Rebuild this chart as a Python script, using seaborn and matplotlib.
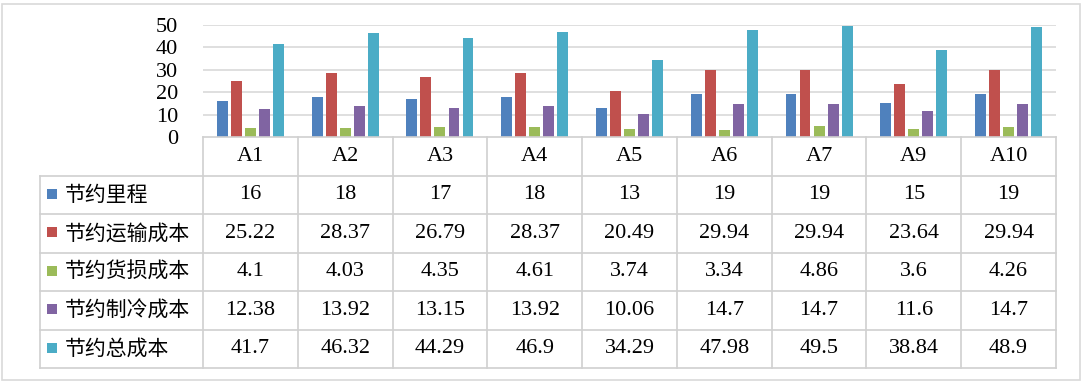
import matplotlib
matplotlib.use("Agg")
import matplotlib.pyplot as plt
import seaborn as sns
import pandas as pd
import numpy as np
from matplotlib.patches import Rectangle

categories = ["A1", "A2", "A3", "A4", "A5", "A6", "A7", "A9", "A10"]
series_names = ["节约里程", "节约运输成本", "节约货损成本", "节约制冷成本", "节约总成本"]
mileage = [16, 18, 17, 18, 13, 19, 19, 15, 19]
transport = [25.22, 28.37, 26.79, 28.37, 20.49, 29.94, 29.94, 23.64, 29.94]
damage = [4.1, 4.03, 4.35, 4.61, 3.74, 3.34, 4.86, 3.6, 4.26]
cooling = [12.38, 13.92, 13.15, 13.92, 10.06, 14.7, 14.7, 11.6, 14.7]
total = [41.7, 46.32, 44.29, 46.9, 34.29, 47.98, 49.5, 38.84, 48.9]
value_labels = [
    ["16", "18", "17", "18", "13", "19", "19", "15", "19"],
    ["25.22", "28.37", "26.79", "28.37", "20.49", "29.94", "29.94", "23.64", "29.94"],
    ["4.1", "4.03", "4.35", "4.61", "3.74", "3.34", "4.86", "3.6", "4.26"],
    ["12.38", "13.92", "13.15", "13.92", "10.06", "14.7", "14.7", "11.6", "14.7"],
    ["41.7", "46.32", "44.29", "46.9", "34.29", "47.98", "49.5", "38.84", "48.9"],
]
yticks = [0, 10, 20, 30, 40, 50]
colors = ["#4F81BD", "#C0504D", "#9BBB59", "#8064A2", "#4BACC6"]

all_series = [mileage, transport, damage, cooling, total]
df = pd.DataFrame({
    "cat": np.tile(categories, len(series_names)),
    "series": np.repeat(series_names, len(categories)),
    "value": np.concatenate(all_series),
})

W, H = 1086, 384
fig = plt.figure(figsize=(W / 100, H / 100), dpi=100)
serif = ["Liberation Serif", "DejaVu Serif"]
cjk = ["Noto Sans CJK SC", "DejaVu Sans"]
grid_c = "#D9D9D9"

def px(x0, y0, x1, y1):
    return [x0 / W, 1 - y1 / H, (x1 - x0) / W, (y1 - y0) / H]

# outer frame
fig.patches.append(Rectangle((2 / W, 4 / H), (1080 - 2) / W, (380 - 4) / H,
                             transform=fig.transFigure, fill=False,
                             edgecolor=grid_c, lw=1.2))

x_left_px, x_right_px, y_top_px, y_zero_px, y_bot_px = 203, 1056, 25, 137, 368
ax = fig.add_axes(px(x_left_px, y_top_px, x_right_px, y_zero_px))
sns.barplot(data=df, x="cat", y="value", hue="series", palette=colors,
            width=0.74, gap=0.22, ax=ax, legend=False, saturation=1,
            edgecolor="none")
ax.set_xlim(-0.5, len(categories) - 0.5)
ax.set_ylim(0, 50)
ax.set_yticks(yticks)
ax.set_yticklabels([str(t) for t in yticks], fontfamily=serif, fontsize=16)
ax.tick_params(axis="y", length=0, pad=18)
ax.tick_params(axis="x", length=0, labelbottom=False)
ax.set_xlabel("")
ax.set_ylabel("")
for s in ax.spines.values():
    s.set_visible(False)
ax.set_axisbelow(True)
for t in yticks[1:]:
    ax.axhline(t, color=grid_c, lw=1.2, zorder=0)

# data table
ncol = len(categories)
unit = (x_right_px - x_left_px) / ncol
tab_left_px = 40
tx0 = -0.5 - (x_left_px - tab_left_px) / unit
tax = fig.add_axes(px(tab_left_px, y_zero_px, x_right_px, y_bot_px))
tax.set_xlim(tx0, ncol - 0.5)
nrows = 6
tax.set_ylim(nrows, 0)
tax.axis("off")
lc = "#D0D0D0"
lw = 1.2
tax.plot([-0.5, ncol - 0.5], [0, 0], color=lc, lw=lw, clip_on=False)
for r in range(1, nrows + 1):
    tax.plot([tx0, ncol - 0.5], [r, r], color=lc, lw=lw, clip_on=False)
for c in range(ncol + 1):
    tax.plot([c - 0.5, c - 0.5], [0, nrows], color=lc, lw=lw, clip_on=False)
tax.plot([tx0, tx0], [1, nrows], color=lc, lw=lw, clip_on=False)

for c, name in enumerate(categories):
    tax.text(c, 0.5, name, ha="center", va="center", fontfamily=serif, fontsize=16)
for r, (name, col, labels) in enumerate(zip(series_names, colors, value_labels)):
    y = r + 1.5
    tax.add_patch(Rectangle((tx0 + 7 / unit, y - 0.16), 10 / unit, 0.27,
                            facecolor=col, edgecolor="none", clip_on=False))
    tax.text(tx0 + 25 / unit, y, name, ha="left", va="center",
             fontfamily=cjk, fontsize=15)
    for c, lab in enumerate(labels):
        tax.text(c, y, lab, ha="center", va="center", fontfamily=serif, fontsize=16)

fig.savefig("out.png", dpi=100)
